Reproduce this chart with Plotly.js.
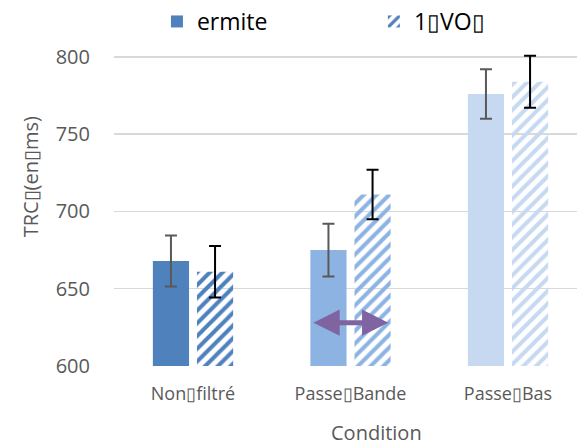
<!DOCTYPE html>
<html><head><meta charset="utf-8">
<script src="https://cdn.plot.ly/plotly-3.0.1.min.js"></script>
<style>html,body{margin:0;padding:0;background:#fff}</style>
</head><body><div id="chart" style="width:577px;height:446px"></div>
<script>
const categories = ['Non\u25AFfiltré', 'Passe\u25AFBande', 'Passe\u25AFBas'];
const seriesNames = ['ermite', '1\u25AFVO\u25AF'];
const hermiteValues = [668, 675, 776];
const hermiteErrors = [16.5, 17, 16];
const voValues = [661, 711, 784];
const voErrors = [16.7, 16, 16.8];
const barColors = ['#4f81bd', '#8db3e2', '#c6d9f1'];
const yTicks = [600, 650, 700, 750, 800];
const arrowFrom = {x: 0.755, y: 628};
const arrowTo = {x: 1.24, y: 628};

const FONT = 'Open Sans, Noto Sans, sans-serif';
const xIdx = categories.map((c, i) => i);

const traces = [
  {
    type: 'bar', name: seriesNames[0], x: xIdx, y: hermiteValues, legend: 'legend',
    marker: {color: barColors},
    error_y: {type: 'data', array: hermiteErrors, visible: true, color: '#595959', thickness: 2, width: 6}
  },
  {
    type: 'bar', name: seriesNames[1], x: xIdx, y: voValues, legend: 'legend2',
    marker: {color: barColors, pattern: {shape: '/', fillmode: 'replace', fgcolor: barColors, bgcolor: '#ffffff', size: 9, solidity: 0.45}},
    error_y: {type: 'data', array: voErrors, visible: true, color: '#000000', thickness: 2, width: 6}
  }
];

const legendCommon = {orientation: 'h', xref: 'container', yref: 'container', xanchor: 'left', y: 1.0, yanchor: 'top',
  font: {family: FONT, size: 23, color: '#000'}, itemwidth: 30, bgcolor: 'rgba(0,0,0,0)'};

const layout = {
  width: 577, height: 446,
  margin: {l: 114, r: 0, t: 50, b: 80, autoexpand: false},
  paper_bgcolor: '#fff', plot_bgcolor: '#fff',
  barmode: 'group', bargap: 0.44, bargroupgap: 0.18,
  font: {family: FONT, color: '#595959', size: 20},
  showlegend: true,
  legend: Object.assign({}, legendCommon, {x: 0.272}),
  legend2: Object.assign({}, legendCommon, {x: 0.648}),
  xaxis: {
    range: [-0.5016, 2.438], tickmode: 'array', tickvals: xIdx, ticktext: categories,
    showgrid: false, zeroline: false, showline: false, ticks: '',
    tickfont: {family: FONT, size: 18, color: '#595959'}, ticklabelstandoff: 15
  },
  yaxis: {
    range: [600, 804.5], tickmode: 'array', tickvals: yTicks,
    showgrid: true, gridcolor: '#d9d9d9', gridwidth: 1.5, zeroline: false, showline: false, ticks: '',
    tickfont: {family: FONT, size: 20, color: '#595959'}, ticklabelstandoff: 23
  },
  annotations: [
    {xref: 'paper', yref: 'paper', x: -0.215, y: 0.6, text: 'TRC\u25AF(en\u25AFms)', textangle: -90,
     showarrow: false, font: {family: FONT, size: 20, color: '#595959'}},
    {xref: 'paper', yref: 'paper', x: 0.566, y: -0.26, text: 'Condition',
     showarrow: false, font: {family: FONT, size: 20, color: '#595959'}},
    {x: arrowTo.x, y: arrowTo.y, ax: arrowFrom.x, ay: arrowFrom.y, xref: 'x', yref: 'y', axref: 'x', ayref: 'y',
     text: '', showarrow: true, arrowhead: 2, startarrowhead: 2, arrowside: 'end+start', arrowsize: 1.05, startarrowsize: 1.05,
     arrowwidth: 5, arrowcolor: '#8064a2'}
  ]
};

Plotly.newPlot('chart', traces, layout, {displayModeBar: false, staticPlot: true});
</script></body></html>
